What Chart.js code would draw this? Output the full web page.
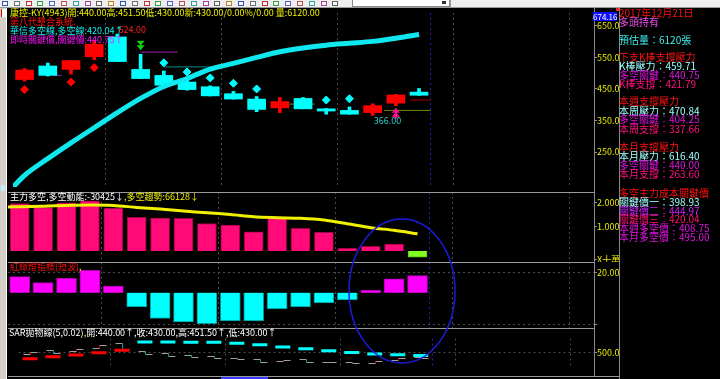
<!DOCTYPE html>
<html><head><meta charset="utf-8">
<script src="https://cdn.jsdelivr.net/npm/chart.js@4.4.1/dist/chart.umd.min.js"></script>
<style>
html,body{margin:0;padding:0;background:#000;}
body{position:relative;width:720px;height:379px;overflow:hidden;font-family:"Noto Sans CJK TC","Noto Sans",sans-serif;}
.a{position:absolute;}
.t{position:absolute;white-space:nowrap;font-size:9px;line-height:10px;}
.s{position:absolute;left:619px;white-space:nowrap;font-size:10px;line-height:10px;}
canvas{position:absolute;display:block;}
</style></head><body>
<!-- toolbar -->
<div class="a" style="left:0;top:0;width:720px;height:7px;background:#eeeeee;border-bottom:1px solid #9a9a9a"></div>
<div id="icons"></div>
<div class="a" style="left:352px;top:0;width:96px;height:6px;background:#fff;border:1px solid #888;border-top:0"></div>
<div class="a" style="left:442px;top:1px;width:4px;height:3px;background:#333"></div>
<div class="a" style="left:450px;top:0;width:1px;height:7px;background:#999"></div>
<!-- left strip -->
<div class="a" style="left:0;top:8px;width:6px;height:371px;background:#d4d0c8"></div>
<div class="a" style="left:6px;top:8px;width:1px;height:371px;background:#ffffff"></div>
<div class="a" style="left:1px;top:9px;width:4px;height:8px;background:#fff;border-left:1px solid #e00"></div>
<div class="a" style="left:1px;top:185px;width:4px;height:6px;background:#bfefff"></div>

<canvas id="c1" width="611" height="184" style="left:8px;top:8px"></canvas>
<canvas id="c2" width="611" height="70" style="left:8px;top:192px"></canvas>
<canvas id="c3" width="611" height="66" style="left:8px;top:262px"></canvas>
<canvas id="c4" width="611" height="48" style="left:8px;top:328px"></canvas>

<!-- frame lines -->
<div class="a" style="left:8px;top:192px;width:586px;height:1px;background:#9a9a9a"></div>
<div class="a" style="left:8px;top:262px;width:586px;height:1px;background:#9a9a9a"></div>
<div class="a" style="left:8px;top:328px;width:586px;height:1px;background:#9a9a9a"></div>
<div class="a" style="left:8px;top:376px;width:611px;height:1px;background:#9a9a9a"></div>
<div class="a" style="left:594px;top:8px;width:1px;height:368px;background:#8a8a8a"></div>
<div class="a" style="left:619px;top:8px;width:1px;height:371px;background:#8a8a8a"></div>
<div class="a" style="left:221px;top:377px;width:47px;height:2px;background:#3a3aff"></div>

<!-- main titles -->
<div class="t" style="left:10px;top:8px;color:#f0f000">康控-KY(4943)開:440.00高:451.50低:430.00新:430.00/0.00%/0.00 量:6120.00</div>
<div class="t" style="left:10px;top:17px;color:#ff1010">第八代整合系統.</div>
<div class="t" style="left:10px;top:26px;color:#10f0f0">華信多空線,多空線:420.04↑</div>
<div class="t" style="left:10px;top:35px;color:#ff10ff">即時關鍵價,關鍵價:440.75↑</div>
<div class="t" style="left:10px;top:192px;color:#ffffff">主力多空,多空動能:-30425↓<span style="color:#f0f000">,多空趨勢:66128↓</span></div>
<div class="t" style="left:10px;top:262px;color:#ff1010">紅綠燈指標(短波)<span style="color:#f0f000">,</span></div>
<div class="t" style="left:9px;top:328px;color:#ffffff">SAR拋物線(5,0.02)<span style="color:#f0f000">,</span>開:440.00↑,收:430.00,高:451.50↑,低:430.00↑</div>

<!-- price box -->
<div class="a" style="left:593px;top:12px;width:24px;height:9px;background:#1010ff;color:#fff;font-size:8px;line-height:9px;text-align:center">674.16</div>
<div class="a" style="left:616px;top:8px;width:3px;height:3px;background:#ff2020"></div>

<!-- side panel -->
<div class="s" style="top:8px;color:#ff1010">2017年12月21日</div>
<div class="s" style="top:17px;color:#f050f0">多頭持有</div>
<div class="s" style="top:35px;color:#40f0f0">預估量：6120張</div>
<div class="s" style="top:52px;color:#ff1010">下支K棒支撐壓力</div>
<div class="s" style="top:61px;color:#a0ffff">K棒壓力：459.71</div>
<div class="s" style="top:70px;color:#e010e0">多空關鍵：440.75</div>
<div class="s" style="top:79px;color:#ff1080">K棒支撐：421.79</div>
<div class="s" style="top:96px;color:#ff1010">本週支撐壓力</div>
<div class="s" style="top:106px;color:#a0ffff">本周壓力：470.84</div>
<div class="s" style="top:114px;color:#e010e0">多空關鍵：404.25</div>
<div class="s" style="top:124px;color:#ff1080">本周支撐：337.66</div>
<div class="s" style="top:142px;color:#ff1010">本月支撐壓力</div>
<div class="s" style="top:151px;color:#a0ffff">本月壓力：616.40</div>
<div class="s" style="top:160px;color:#e010e0">多空關鍵：440.00</div>
<div class="s" style="top:169px;color:#ff1080">本月支撐：263.60</div>
<div class="s" style="top:188px;color:#ff1010">多空主力成本關鍵價</div>
<div class="s" style="top:197px;color:#a0ffff">關鍵價一：398.93</div>
<div class="s" style="top:206px;color:#d020ff">關鍵價二：444.97</div>
<div class="s" style="top:214px;color:#ff1070">關鍵價三：420.04</div>
<div class="s" style="top:223px;color:#e010e0">本週多空價：408.75</div>
<div class="s" style="top:232px;color:#e010e0">本月多空價：495.00</div>

<canvas id="ov" width="720" height="379" style="left:0;top:0;pointer-events:none"></canvas>

<script>
// ---------------- DATA ----------------
const candleOpen  = [480,523,512,552,615,512,493,472,457,435,418,390,420,387,382,375,405,440];
const candleHigh  = [515,532,540,602,624,560,507,479,460,442,426,423,423,388,393,403,433,451.5];
const candleLow   = [475,491,497,543,537,483,453,446,428,418,378,375,387,370,370,366,397,430];
const candleClose = [510,493,540,592,537,483,462,448,428,418,385,410,387,380,370,397,431,430];
const trendStart = 139;
const trendLine  = [176,229,279,327,375,420,458,483,513,531,550,568,580,589,595,601,611,623];
const diamondHigh = [null,null,null,null,null,null,533,504,485,468,450,null,null,415,419,null,null,null];
const diamondLow  = [448,null,472,518,null,null,null,null,null,null,null,null,null,null,null,null,null,null];
const levelPrice = [493,567,520,402,382,415];
const levelFrom  = [1.25,5,6,11.4,15.5,16.6];
const levelTo    = [1.6,6.6,8.3,12.5,17.5,17.5];
const sellSignalIdx = [5];
const buySignalIdx  = [16];
const powerBars   = [1.95,1.78,1.98,2.06,1.75,1.38,1.35,1.34,1.13,1.07,0.79,1.34,0.93,0.77,0.11,0.19,0.29,-0.25];
const powerStart  = 1.81;
const powerTrend  = [1.82,1.84,1.87,1.89,1.87,1.79,1.72,1.64,1.57,1.50,1.41,1.37,1.34,1.27,1.12,0.96,0.85,0.71];
const lightBars   = [15.7,10,14,22,6.4,-14,-25.3,-28.6,-30.3,-27.6,-27.6,-16,-14,-10,-7,2.4,13.7,16.7];
const sarValues   = [423,448,469,496,525,625,625,624,623,611,591,564,543,520,498,480,471,464];
const mainTicks = [650,550,450,350,250];
const mainTickLabels = ['650.0','550.0','450.0','350.0','250.0'];
const powerTicks = [2,1,-0.33];
const powerTickLabels = ['2.000','1.000','X十萬'];
const lightTicks = [20,-30.7];
const lightTickLabels = ['20.00',''];
const sarTicks = [500];
const sarTickLabels = ['500.0'];
const vGridAt = [3.5,8.5,13.5,17.5,18.5,23.5];
const todayLine = 17.5;

// ---------------- STYLE ----------------
const FONT = '"Noto Sans CJK TC","Noto Sans",sans-serif';
Chart.defaults.font.family = FONT;
const UP='#ff0000', DN='#00ffff';
const levelColors = ['#9020a0','#a020b0','#008c8c','#6a8a10','#6a8a10','#a00000'];
const xMin=-0.5, xMax=24.54;

// toolbar icons (decoration)
(function(){
  const box=document.getElementById('icons');
  const cols=['#3050c0','#707070','#c03030','#30a040','#5060d0','#c05050','#30a0a0','#a040a0','#606060','#c08020'];
  let html='';
  for(let k=0;k<29;k++){
    const x=2+k*11.8;
    html+=`<div class="a" style="left:${x}px;top:1px;width:6px;height:5px;border:1px solid ${cols[k%cols.length]};box-sizing:border-box;background:#fafafa"></div>`;
  }
  box.innerHTML=html;
})();

function idxPts(arr){ const o=[]; arr.forEach((v,i)=>{ if(v!==null) o.push({x:i,y:v}); }); return o; }

function makeOpts(yMin,yMax,ticks,labels,gridOn){
  return {
    responsive:false, animation:false, devicePixelRatio:1,
    layout:{padding:0},
    plugins:{legend:{display:false},tooltip:{enabled:false}},
    scales:{
      x:{type:'linear',min:xMin,max:xMax,offset:false,
        afterBuildTicks:s=>{s.ticks=vGridAt.map(v=>({value:v}));},
        afterFit:s=>{s.height=0;s.paddingLeft=0;s.paddingRight=0;},
        ticks:{display:false},
        grid:{offset:false,drawTicks:false,lineWidth:1,
          color:c=>(c.tick&&c.tick.value===todayLine)?'#2020b8':'#4a4a4a'},
        border:{display:false,dash:[2,3]}
      },
      y:{position:'right',min:yMin,max:yMax,
        afterBuildTicks:s=>{s.ticks=ticks.map(v=>({value:v}));},
        afterFit:s=>{s.width=25;s.paddingTop=0;s.paddingBottom=0;},
        ticks:{color:'#e8e800',font:{family:FONT,size:9},padding:0,autoSkip:false,
          callback:(v,i)=>labels[i]},
        grid:{color:c=>gridOn?'#4a4a4a':'rgba(0,0,0,0)',tickColor:'#909090',tickLength:3,tickWidth:1,tickBorderDash:[]},
        border:{display:false,dash:[2,3]}
      }
    }
  };
}

// ---------------- MAIN PRICE CHART ----------------
const n = candleOpen.length;
const candleColors = candleOpen.map((o,i)=>candleClose[i]>=o?UP:DN);
const labelPlugin = {
  id:'labels',
  afterDatasetsDraw(chart){
    const {ctx,scales:{x,y}}=chart;
    ctx.save();
    ctx.font='9px '+FONT; ctx.textBaseline='middle'; ctx.textAlign='left';
    // highest high label
    let hi=0; candleHigh.forEach((v,i)=>{ if(v>candleHigh[hi]) hi=i; });
    ctx.fillStyle='#ff2020';
    ctx.fillText(candleHigh[hi].toFixed(2), x.getPixelForValue(hi)+1, y.getPixelForValue(candleHigh[hi])-5);
    // lowest low label
    let lo=0; candleLow.forEach((v,i)=>{ if(v<candleLow[lo]) lo=i; });
    ctx.fillStyle='#30c8c8';
    ctx.fillText(candleLow[lo].toFixed(2), x.getPixelForValue(lo)+1, y.getPixelForValue(candleLow[lo])+5);
    // sell arrows (green, pointing down) above the high
    ctx.fillStyle='#10d010';
    sellSignalIdx.forEach(i=>{
      const px=x.getPixelForValue(i), py=y.getPixelForValue(candleHigh[i]);
      [py-8.5,py-4].forEach(tip=>{ctx.beginPath();ctx.moveTo(px-4,tip-5);ctx.lineTo(px+4,tip-5);ctx.lineTo(px,tip);ctx.closePath();ctx.fill();});
    });
    // buy arrows (pink, pointing up) below the low
    ctx.fillStyle='#ff1090';
    buySignalIdx.forEach(i=>{
      const px=x.getPixelForValue(i), py=y.getPixelForValue(candleLow[i]);
      [py+2,py+6].forEach(tip=>{ctx.beginPath();ctx.moveTo(px-4,tip+5);ctx.lineTo(px+4,tip+5);ctx.lineTo(px,tip);ctx.closePath();ctx.fill();});
      ctx.fillRect(px-1,py+10,2,3);
    });
    ctx.restore();
  }
};
const levelSets = levelPrice.map((p,k)=>({
  type:'line', data:[{x:levelFrom[k],y:p},{x:levelTo[k],y:p}],
  borderColor:levelColors[k], borderWidth:1, pointRadius:0, order:4
}));
new Chart(document.getElementById('c1'),{
  type:'bar',
  data:{datasets:[
    {type:'line',data:[{x:xMin,y:trendStart}].concat(trendLine.map((v,i)=>({x:i,y:v}))),
     borderColor:'#10e8f0',borderWidth:5,pointRadius:0,tension:0.4,cubicInterpolationMode:'monotone',order:0},
    {type:'line',data:idxPts(diamondHigh),showLine:false,pointStyle:'rectRot',pointRadius:4,
     pointBackgroundColor:DN,pointBorderColor:DN,order:1},
    {type:'line',data:idxPts(diamondLow),showLine:false,pointStyle:'rectRot',pointRadius:4,
     pointBackgroundColor:UP,pointBorderColor:UP,order:1},
    {type:'bar',data:candleOpen.map((o,i)=>({x:i,y:[candleOpen[i],candleClose[i]]})),
     backgroundColor:candleColors,barThickness:18,grouped:false,borderWidth:0,order:2},
    {type:'bar',data:candleOpen.map((o,i)=>({x:i,y:[candleLow[i],candleHigh[i]]})),
     backgroundColor:candleColors,barThickness:3,grouped:false,borderWidth:0,order:3},
    ...levelSets
  ]},
  options:makeOpts(139,691,mainTicks,mainTickLabels,false),
  plugins:[labelPlugin]
});

// ---------------- POWER PANEL ----------------
new Chart(document.getElementById('c2'),{
  type:'bar',
  data:{datasets:[
    {type:'line',data:[{x:xMin,y:powerStart}].concat(powerTrend.map((v,i)=>({x:i,y:v}))),
     borderColor:'#f0f000',borderWidth:3,pointRadius:0,tension:0.3,order:0},
    {type:'bar',data:powerBars.map((v,i)=>({x:i,y:v})),
     backgroundColor:powerBars.map(v=>v>=0?'#ff0a78':'#80ff20'),
     borderColor:powerBars.map(v=>v>=0?'#a00048':'#60c010'),borderWidth:1,
     barThickness:19,grouped:false,order:1}
  ]},
  options:makeOpts(-0.447,2.42,powerTicks,powerTickLabels,false)
});

// ---------------- RED/GREEN LIGHT PANEL ----------------
new Chart(document.getElementById('c3'),{
  type:'bar',
  data:{datasets:[
    {type:'bar',data:lightBars.map((v,i)=>({x:i,y:v})),
     backgroundColor:lightBars.map(v=>v>=0?'#ff00ff':'#00ffff'),
     borderColor:lightBars.map(v=>v>=0?'#b000b0':'#009090'),borderWidth:1,
     barThickness:20,grouped:false}
  ]},
  options:makeOpts(-34.6,30.1,lightTicks,lightTickLabels,true)
});

// ---------------- SAR PANEL ----------------
const stepPlugin = {
  id:'steps',
  beforeDatasetsDraw(chart){
    const {ctx,scales:{x,y}}=chart;
    ctx.save(); ctx.lineWidth=1;
    for(let i=0;i<n;i++){
      const px=Math.round(x.getPixelForValue(i))+0.5;
      const yo=Math.round(y.getPixelForValue(candleOpen[i]))+0.5;
      const yc=Math.round(y.getPixelForValue(candleClose[i]))+0.5;
      ctx.strokeStyle='#a0a0a0';
      ctx.beginPath();ctx.moveTo(px-7,yo);ctx.lineTo(px,yo);ctx.moveTo(px,yc);ctx.lineTo(px+7,yc);ctx.stroke();
      ctx.strokeStyle=candleClose[i]>=candleOpen[i]?'#e00000':'#00a0a0';
      ctx.beginPath();ctx.moveTo(px,yo);ctx.lineTo(px,yc);ctx.stroke();
    }
    ctx.restore();
  }
};
const sarColors = sarValues.map((v,i)=>v<candleClose[i]?'#ff0000':'#00ffff');
new Chart(document.getElementById('c4'),{
  type:'bar',
  data:{datasets:[
    {type:'line',data:sarValues.map((v,i)=>({x:i,y:v})),showLine:false,pointStyle:'line',
     pointRadius:7.5,pointBorderWidth:3,pointBorderColor:sarColors,pointBackgroundColor:sarColors}
  ]},
  options:makeOpts(341.6,668,sarTicks,sarTickLabels,true),
  plugins:[stepPlugin]
});

// ---------------- hand-drawn ellipse annotation ----------------
(function(){
  const c=document.getElementById('ov').getContext('2d');
  c.strokeStyle='#1c1ce0'; c.lineWidth=1.5;
  c.beginPath(); c.ellipse(402,291,53,72,0,0,Math.PI*2); c.stroke();
})();
</script>
</body></html>
